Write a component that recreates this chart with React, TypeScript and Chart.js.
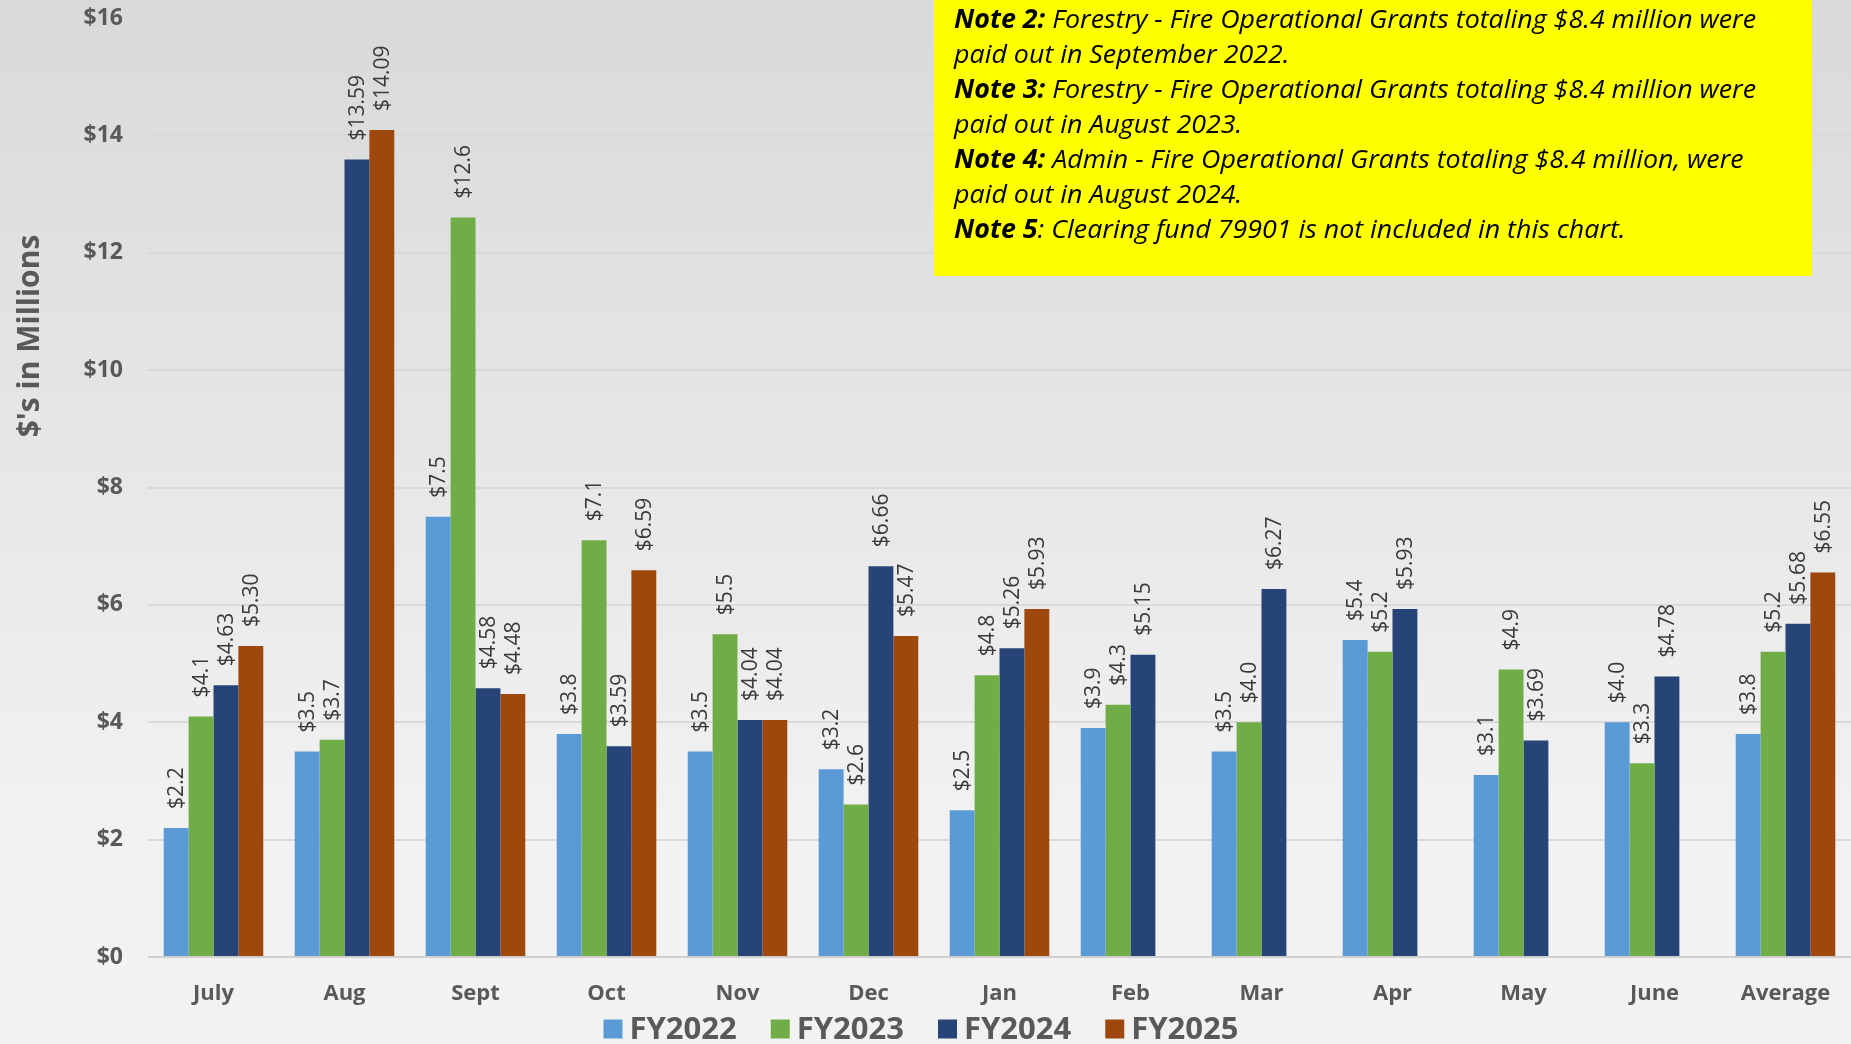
import React, { useEffect, useRef } from "react";
import { Chart, registerables } from "chart.js";

Chart.register(...registerables);

const categories = ["July", "Aug", "Sept", "Oct", "Nov", "Dec", "Jan", "Feb", "Mar", "Apr", "May", "June", "Average"];
const fy2022 = [2.2, 3.5, 7.5, 3.8, 3.5, 3.2, 2.5, 3.9, 3.5, 5.4, 3.1, 4.0, 3.8];
const fy2023 = [4.1, 3.7, 12.6, 7.1, 5.5, 2.6, 4.8, 4.3, 4.0, 5.2, 4.9, 3.3, 5.2];
const fy2024 = [4.63, 13.59, 4.58, 3.59, 4.04, 6.66, 5.26, 5.15, 6.27, 5.93, 3.69, 4.78, 5.68];
const fy2025 = [5.3, 14.09, 4.48, 6.59, 4.04, 5.47, 5.93, null, null, null, null, null, 6.55];
const seriesNames = ["FY2022", "FY2023", "FY2024", "FY2025"];
const seriesColors = ["#5b9bd5", "#70ad47", "#264478", "#9e480e"];
const labelDecimals = [1, 1, 2, 2];
const yMin = 0;
const yMax = 16;
const yStep = 2;
const yTitle = "$'s in Millions";
const noteLines: [string, string][] = [
  ["Note 2:", " Forestry - Fire Operational Grants totaling $8.4 million were"],
  ["", "paid out in September 2022."],
  ["Note 3:", " Forestry - Fire Operational Grants totaling $8.4 million were"],
  ["", "paid out in August 2023."],
  ["Note 4:", " Admin - Fire Operational Grants totaling $8.4 million, were"],
  ["", "paid out in August 2024."],
  ["Note 5", ": Clearing fund 79901 is not included in this chart."],
];

const W = 1851;
const H = 1044;
const TEXT_GRAY = "#595959";

const backgroundPlugin = {
  id: "bg",
  beforeDraw(chart: any) {
    const ctx = chart.ctx;
    const g = ctx.createLinearGradient(0, 0, 0, H);
    g.addColorStop(0, "#d9d9d9");
    g.addColorStop(0.8, "#f2f2f2");
    g.addColorStop(1, "#f2f2f2");
    ctx.save();
    ctx.fillStyle = g;
    ctx.fillRect(0, 0, W, H);
    ctx.restore();
  },
};

const dataLabelPlugin = {
  id: "dataLabels",
  afterDatasetsDraw(chart: any) {
    const ctx = chart.ctx;
    chart.data.datasets.forEach((ds: any, i: number) => {
      const meta = chart.getDatasetMeta(i);
      meta.data.forEach((bar: any, j: number) => {
        const v = ds.data[j];
        if (v == null) return;
        const text = "$" + Number(v).toFixed(labelDecimals[i]);
        ctx.save();
        ctx.translate(bar.x + 1, bar.y - 19);
        ctx.rotate(-Math.PI / 2);
        ctx.font = '21px "Open Sans"';
        ctx.fillStyle = "#3a3a3a";
        ctx.textAlign = "left";
        ctx.textBaseline = "middle";
        ctx.fillText(text, 0, 0);
        ctx.restore();
      });
    });
  },
};

const overlayPlugin = {
  id: "overlay",
  afterDraw(chart: any) {
    const ctx = chart.ctx;
    // Note box
    ctx.save();
    ctx.fillStyle = "#ffff00";
    ctx.fillRect(934, 0, 878, 276);
    const fs = 26;
    const boldFont = `italic bold ${fs}px "Open Sans"`;
    const normFont = `italic ${fs}px "Open Sans"`;
    ctx.font = boldFont;
    let w0 = ctx.measureText(noteLines[0][0]).width;
    ctx.font = normFont;
    w0 += ctx.measureText(noteLines[0][1]).width;
    const sx = 802 / w0;
    const lineYs = [21, 56, 91, 126, 161, 196, 231];
    ctx.fillStyle = "#000000";
    ctx.textBaseline = "middle";
    ctx.textAlign = "left";
    noteLines.forEach((ln, k) => {
      ctx.save();
      ctx.translate(954, lineYs[k]);
      ctx.scale(sx, 1);
      let x = 0;
      if (ln[0]) {
        ctx.font = boldFont;
        ctx.fillText(ln[0], x, 0);
        x += ctx.measureText(ln[0]).width;
      }
      ctx.font = normFont;
      ctx.fillText(ln[1], x, 0);
      ctx.restore();
    });
    ctx.restore();

    // Y axis title
    ctx.save();
    ctx.translate(30, 336);
    ctx.rotate(-Math.PI / 2);
    ctx.font = 'bold 30px "Open Sans"';
    ctx.fillStyle = TEXT_GRAY;
    ctx.textAlign = "center";
    ctx.textBaseline = "middle";
    ctx.fillText(yTitle, 0, 0);
    ctx.restore();

    // Legend
    ctx.save();
    ctx.font = 'bold 31px "Open Sans"';
    const box = 19;
    const gapText = 7;
    const gapItem = 34;
    const widths = seriesNames.map((n) => ctx.measureText(n).width);
    const total = widths.reduce((a, b) => a + b, 0) + seriesNames.length * (box + gapText) + (seriesNames.length - 1) * gapItem;
    let x = 921 - total / 2;
    const cy = 1029;
    ctx.textBaseline = "middle";
    ctx.textAlign = "left";
    seriesNames.forEach((n, k) => {
      ctx.fillStyle = seriesColors[k];
      ctx.fillRect(x, cy - box / 2, box, box);
      x += box + gapText;
      ctx.fillStyle = TEXT_GRAY;
      ctx.fillText(n, x, cy + 1);
      x += widths[k] + gapItem;
    });
    ctx.restore();
  },
};

export default function App() {
  const canvasRef = useRef<HTMLCanvasElement | null>(null);

  useEffect(() => {
    const canvas = canvasRef.current;
    if (!canvas) return;
    const series = [fy2022, fy2023, fy2024, fy2025];
    const chart = new Chart(canvas, {
      type: "bar",
      data: {
        labels: categories,
        datasets: series.map((d, i) => ({
          label: seriesNames[i],
          data: d as any,
          backgroundColor: seriesColors[i],
          borderWidth: 0,
          categoryPercentage: 0.76,
          barPercentage: 1.0,
        })),
      },
      options: {
        animation: false,
        responsive: false,
        maintainAspectRatio: false,
        layout: { padding: { top: 18, right: 0, left: 0, bottom: 0 } },
        plugins: {
          legend: { display: false },
          tooltip: { enabled: false },
        },
        scales: {
          x: {
            grid: { display: false, drawTicks: false },
            border: { display: false },
            ticks: {
              color: TEXT_GRAY,
              font: { family: "Open Sans", size: 22, weight: "bold" },
              padding: 24,
              maxRotation: 0,
              autoSkip: false,
            },
            afterFit(scale: any) {
              scale.height = 87;
              scale.paddingLeft = 0;
              scale.paddingRight = 0;
            },
          },
          y: {
            min: yMin,
            max: yMax,
            grid: {
              color: (c: any) => (c.tick && c.tick.value === 0 ? "#cfcfcf" : "#d9d9d9"),
              lineWidth: 2,
              drawTicks: false,
            },
            border: { display: false },
            ticks: {
              stepSize: yStep,
              color: TEXT_GRAY,
              font: { family: "Open Sans", size: 23, weight: "bold" },
              padding: 25,
              callback: (v: any) => "$" + v,
            },
            afterFit(scale: any) {
              scale.width = 148;
              scale.paddingTop = 0;
              scale.paddingBottom = 0;
            },
          },
        },
      },
      plugins: [backgroundPlugin, dataLabelPlugin, overlayPlugin],
    });
    return () => chart.destroy();
  }, []);

  return (
    <div style={{ position: "fixed", left: 0, top: 0, width: W, height: H }}>
      <canvas ref={canvasRef} width={W} height={H} style={{ display: "block", width: W, height: H }} />
    </div>
  );
}
